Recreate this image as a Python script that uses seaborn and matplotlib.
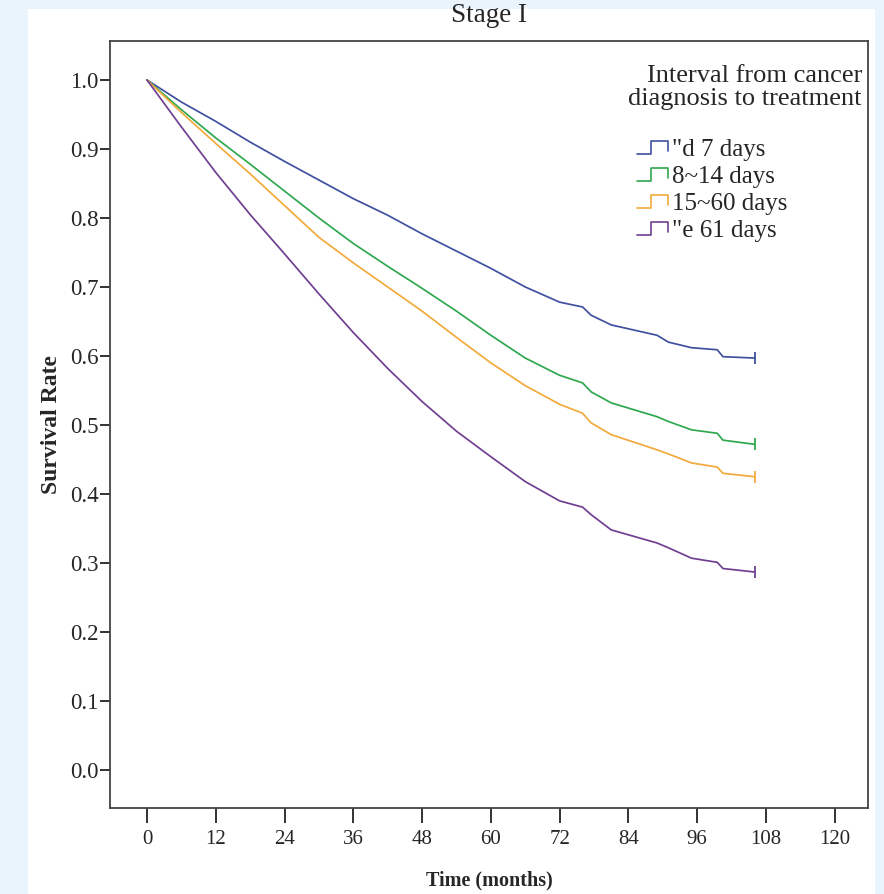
import numpy as np
import pandas as pd
import seaborn as sns
import matplotlib.pyplot as plt
from matplotlib.lines import Line2D
from matplotlib.patches import Rectangle
from matplotlib.legend_handler import HandlerBase

# survival estimates (months, rate)
months = [0, 6, 12, 18, 24, 30, 36, 42, 48, 54, 60, 66, 72, 76, 77.5, 81, 89, 91, 95, 99.5, 100.5, 106]
surv_le7 = [1.0, 0.968, 0.940, 0.910, 0.882, 0.855, 0.828, 0.804, 0.777, 0.752, 0.727, 0.700, 0.678,
            0.671, 0.659, 0.645, 0.630, 0.620, 0.612, 0.609, 0.599, 0.597]
surv_8_14 = [1.0, 0.957, 0.916, 0.878, 0.839, 0.800, 0.763, 0.730, 0.698, 0.665, 0.630, 0.597, 0.572,
             0.561, 0.548, 0.532, 0.512, 0.505, 0.493, 0.488, 0.478, 0.472]
surv_15_60 = [1.0, 0.953, 0.908, 0.864, 0.818, 0.772, 0.735, 0.700, 0.665, 0.627, 0.590, 0.557, 0.530,
              0.517, 0.503, 0.486, 0.464, 0.458, 0.445, 0.439, 0.430, 0.425]
surv_ge61 = [1.0, 0.932, 0.866, 0.805, 0.748, 0.690, 0.634, 0.582, 0.534, 0.491, 0.454, 0.418, 0.390,
             0.381, 0.370, 0.348, 0.329, 0.322, 0.307, 0.301, 0.292, 0.287]

groups = ['"d 7 days', "8~14 days", "15~60 days", '"e 61 days']
colors = ["#3f51a0", "#2fa84f", "#f2aa3c", "#713f91"]

df = pd.concat([
    pd.DataFrame({"time": months, "surv": s, "group": g})
    for s, g in zip([surv_le7, surv_8_14, surv_15_60, surv_ge61], groups)
])


class StepHandler(HandlerBase):
    # step shaped key like the SPSS survival legend
    def create_artists(self, legend, orig_handle, xdescent, ydescent, width, height, fontsize, trans):
        x0 = -xdescent
        y0 = -ydescent
        xs = [x0, x0 + 0.45 * width, x0 + 0.45 * width, x0 + 0.95 * width, x0 + 0.95 * width]
        ys = [y0 + 0.1 * height, y0 + 0.1 * height, y0 + 0.85 * height, y0 + 0.85 * height, y0 + 0.3 * height]
        line = Line2D(xs, ys, color=orig_handle.get_color(), linewidth=1.2, transform=trans)
        return [line]


sns.set_style("white")
plt.rcParams["font.family"] = ["Liberation Serif", "DejaVu Serif"]

fig = plt.figure(figsize=(8.84, 8.94), dpi=100)
fig.patch.set_facecolor("#eaf4fd")
fig.add_artist(Rectangle((28 / 884, 0), 847 / 884, 885 / 894, transform=fig.transFigure,
                         facecolor="white", edgecolor="none", zorder=0))

ax = fig.add_axes([0.1244, 0.0962, 0.8575, 0.858])

sns.lineplot(data=df, x="time", y="surv", hue="group", palette=colors,
             linewidth=1.25, legend=False, ax=ax)

# censor mark at the end of each curve
for s, c in zip([surv_le7, surv_8_14, surv_15_60, surv_ge61], colors):
    ax.plot(months[-1], s[-1], marker="|", color=c, markersize=8, markeredgewidth=1.3)

ax.set_xlim(-6.45, 125.8)
ax.set_ylim(-0.055, 1.0565)
ax.set_xticks(range(0, 121, 12))
ax.set_yticks(np.arange(0, 1.01, 0.1))
ax.set_yticklabels([f"{v:.1f}" for v in np.arange(0, 1.01, 0.1)])

ax.tick_params(axis="x", direction="out", length=11, width=1.4, color="#333333",
               labelsize=15, pad=5, bottom=True)
ax.tick_params(axis="y", direction="out", length=7, width=1.4, color="#333333",
               labelsize=16.5, pad=1, left=True)
for sp in ax.spines.values():
    sp.set_color("#444444")
    sp.set_linewidth(1.3)

ax.set_xlabel("Time (months)", fontsize=14.5, fontweight="bold", labelpad=15)
ax.set_ylabel("Survival Rate", fontsize=17, fontweight="bold", labelpad=6)
ax.set_title("Stage I", fontsize=19.5, pad=14)

ax.text(0.992, 0.968, "Interval from cancer\ndiagnosis to treatment", transform=ax.transAxes,
        ha="right", va="top", multialignment="right", fontsize=19, linespacing=1.05)

handles = [Line2D([], [], color=c) for c in colors]
ax.legend(handles, groups, handler_map={Line2D: StepHandler()}, loc="upper left",
          bbox_to_anchor=(0.695, 0.873), frameon=False, fontsize=18, handlelength=1.3,
          handletextpad=0.12, labelspacing=0.18, borderpad=0, borderaxespad=0)

fig.savefig("out.png", dpi=100, facecolor=fig.get_facecolor())
